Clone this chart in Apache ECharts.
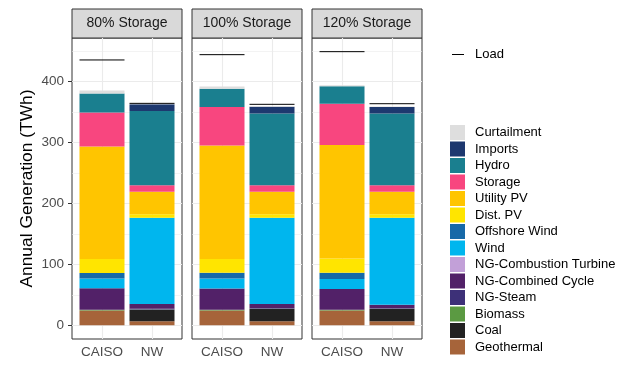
<!DOCTYPE html>
<html>
<head>
<meta charset="utf-8">
<script src="https://cdn.jsdelivr.net/npm/echarts@6/dist/echarts.min.js"></script>
<style>html,body{margin:0;padding:0;background:#fff}#c{width:632px;height:372px}</style>
</head>
<body>
<div id="c"></div>
<script>
// ---- data ----
const panels = ['80% Storage', '100% Storage', '120% Storage'];
const regions = ['CAISO', 'NW'];
const yTicks = [0, 100, 200, 300, 400];
// each array: [80% CAISO, 80% NW, 100% CAISO, 100% NW, 120% CAISO, 120% NW]
const geothermal          = [24.4, 6.5, 24.4, 6.5, 24.4, 6.5];
const coal                = [0, 19.0, 0, 20.1, 0, 20.1];
const biomass             = [1.2, 0.5, 1.2, 0.5, 1.1, 0.5];
const ngSteam             = [0, 1.0, 0, 1.0, 0, 1.0];
const ngCombinedCycle     = [35.2, 7.8, 34.7, 6.7, 34.2, 5.6];
const ngCombustionTurbine = [0, 0, 0, 0, 0, 0];
const wind                = [15.8, 141.7, 16.3, 141.7, 16.3, 142.8];
const offshoreWind        = [9.2, 0, 9.7, 0, 10.3, 0];
const distPV              = [22.8, 5.4, 22.3, 5.4, 23.4, 5.4];
const utilityPV           = [184.6, 36.9, 186.2, 36.9, 185.7, 36.9];
const storage             = [55.4, 10.9, 63.0, 10.9, 67.8, 10.9];
const hydro               = [31.4, 121.6, 29.9, 117.3, 28.8, 117.3];
const imports             = [0, 10.9, 0, 11.3, 0, 10.8];
const curtailment         = [5.0, 0.8, 3.8, 0.8, 1.5, 0.8];
const load                = [434.9, 363.8, 443.6, 362.2, 448.5, 363.2];

const techs = [
  ['Geothermal', geothermal, '#A6643A'],
  ['Coal', coal, '#222222'],
  ['Biomass', biomass, '#5B9A42'],
  ['NG-Steam', ngSteam, '#3D3078'],
  ['NG-Combined Cycle', ngCombinedCycle, '#522168'],
  ['NG-Combustion Turbine', ngCombustionTurbine, '#C2A0D8'],
  ['Wind', wind, '#00B6EE'],
  ['Offshore Wind', offshoreWind, '#1769A8'],
  ['Dist. PV', distPV, '#FFE500'],
  ['Utility PV', utilityPV, '#FFC500'],
  ['Storage', storage, '#F8467F'],
  ['Hydro', hydro, '#1A7F8F'],
  ['Imports', imports, '#1D386F'],
  ['Curtailment', curtailment, '#DEDEDE']
];

// ---- layout ----
const yMin = -22.4, yMax = 470.9;
const gridTop = 38, gridH = 301, gridW = 110;
const gridLefts = [72, 192, 312];
const barW = 45;

const grids = [], xAxes = [], yAxes = [], series = [], graphics = [];
panels.forEach((p, i) => {
  const gl = gridLefts[i];
  grids.push({left: gl, top: gridTop, width: gridW, height: gridH, show: true,
    borderColor: '#333333', borderWidth: 1, backgroundColor: '#fff', containLabel: false});
  xAxes.push({type: 'value', gridIndex: i, min: 0.4, max: 2.6,
    axisLine: {show: false}, splitLine: {show: false},
    axisTick: {show: true, customValues: [1, 2], length: 4, lineStyle: {color: '#333333'}},
    axisLabel: {show: true, customValues: [1, 2], formatter: v => regions[Math.round(v) - 1] || '',
      color: '#4D4D4D', fontSize: 13.5, fontFamily: 'Liberation Sans', margin: 6}});
  yAxes.push({type: 'value', gridIndex: i, min: yMin, max: yMax,
    axisLine: {show: false}, splitLine: {show: false},
    axisTick: {show: i === 0, customValues: yTicks, length: 4, lineStyle: {color: '#333333'}},
    axisLabel: {show: i === 0, customValues: yTicks, color: '#4D4D4D', fontSize: 13.5,
      fontFamily: 'Liberation Sans', margin: 8},
    name: i === 0 ? 'Annual Generation (TWh)' : '', nameLocation: 'middle', nameGap: 36,
    nameTextStyle: {fontSize: 17.4, color: '#000', fontFamily: 'Liberation Sans'}});
  // gridlines
  const gl_data = [];
  for (let v = 0; v <= 450; v += 50) {
    gl_data.push({yAxis: v, lineStyle: {color: '#EBEBEB', width: v % 100 === 0 ? 1.1 : 0.6, type: 'solid'}});
  }
  gl_data.push({xAxis: 1, lineStyle: {color: '#EBEBEB', width: 1.1, type: 'solid'}});
  gl_data.push({xAxis: 2, lineStyle: {color: '#EBEBEB', width: 1.1, type: 'solid'}});
  series.push({type: 'line', name: '_grid' + i, xAxisIndex: i, yAxisIndex: i, data: [[1, null]],
    silent: true, z: 1, showSymbol: false,
    markLine: {silent: true, z: 1, symbol: ['none', 'none'], label: {show: false},
      emphasis: {disabled: true}, animation: false, data: gl_data}});
  techs.forEach(([name, arr, color]) => {
    // value first so the stacked dimension is the y value
    series.push({type: 'bar', name, stack: 'gen' + i, xAxisIndex: i, yAxisIndex: i,
      barWidth: barW, z: 10, itemStyle: {color}, emphasis: {disabled: true},
      encode: {x: 1, y: 0},
      data: [[arr[i * 2], 1], [arr[i * 2 + 1], 2]]});
  });
  series.push({type: 'custom', name: 'Load', xAxisIndex: i, yAxisIndex: i, z: 20,
    itemStyle: {color: '#000'},
    data: [[1, load[i * 2]], [2, load[i * 2 + 1]]],
    renderItem: (params, api) => {
      const x = api.value(0), y = api.value(1);
      const p1 = api.coord([x - 0.45, y]), p2 = api.coord([x + 0.45, y]);
      return {type: 'line', shape: {x1: p1[0], y1: p1[1], x2: p2[0], y2: p2[1]},
        style: {stroke: '#000', lineWidth: 1}};
    }});
  // strip
  graphics.push({type: 'rect', shape: {x: gl, y: 9, width: gridW, height: gridTop - 9},
    style: {fill: '#D9D9D9', stroke: '#333333', lineWidth: 1}});
  graphics.push({type: 'text', x: gl + gridW / 2, y: 9 + (gridTop - 9) / 2,
    style: {text: p, fill: '#1A1A1A', font: '14px "Liberation Sans"', align: 'center', verticalAlign: 'middle'}});
});

const legendNames = techs.map(t => t[0]).reverse();
const chart = echarts.init(document.getElementById('c'), null, {renderer: 'canvas'});
chart.setOption({
  animation: false,
  grid: grids, xAxis: xAxes, yAxis: yAxes, series,
  graphic: graphics,
  legend: [
    {data: [{name: 'Load', icon: 'rect', itemStyle: {color: '#000'}}], orient: 'vertical',
      left: 452, top: 48, padding: 0, itemWidth: 12, itemHeight: 1, selectedMode: false,
      textStyle: {fontSize: 13, color: '#000', fontFamily: 'Liberation Sans', padding: [0, 0, 0, 6]}},
    {data: legendNames.map(n => ({name: n, icon: 'rect'})), orient: 'vertical',
      left: 450, top: 125, padding: 0, itemWidth: 15, itemHeight: 15, itemGap: 1.5, selectedMode: false,
      textStyle: {fontSize: 13, color: '#000', fontFamily: 'Liberation Sans', padding: [0, 0, 0, 5]}}
  ]
});
</script>
</body>
</html>
